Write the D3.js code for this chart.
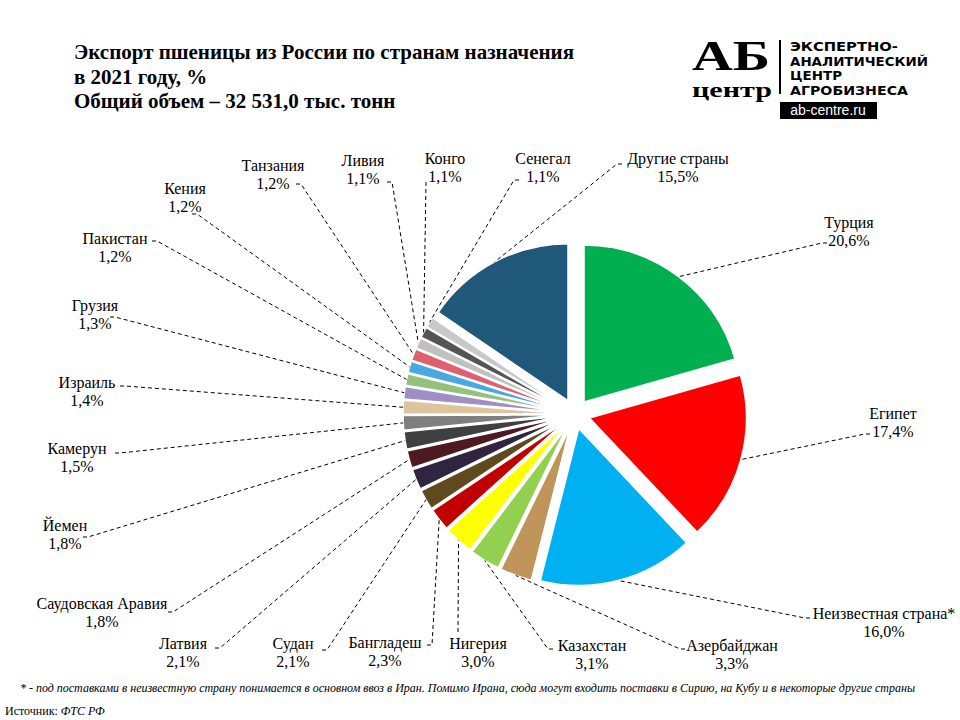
<!DOCTYPE html>
<html>
<head>
<meta charset="utf-8">
<script src="https://cdn.jsdelivr.net/npm/d3@7"></script>
<style>
  body { margin: 0; background: #fff; }
</style>
</head>
<body>
<div id="chart"></div>
<script>
// Экспорт пшеницы из России, 2021, % по странам
var countries = ["Турция", "Египет", "Неизвестная страна*", "Азербайджан", "Казахстан",
  "Нигерия", "Бангладеш", "Судан", "Латвия", "Саудовская Аравия", "Йемен", "Камерун",
  "Израиль", "Грузия", "Пакистан", "Кения", "Танзания", "Ливия", "Конго", "Сенегал",
  "Другие страны"];
var shares = [20.6, 17.4, 16.0, 3.3, 3.1, 3.0, 2.3, 2.1, 2.1, 1.8, 1.8, 1.5,
  1.4, 1.3, 1.2, 1.2, 1.2, 1.1, 1.1, 1.1, 15.5];
var colors = ["#00b050", "#ff0000", "#00b0f0", "#c0955a", "#92d050", "#ffff00",
  "#c00000", "#5f4a1e", "#2f2541", "#4d1a22", "#404040", "#7f7f7f", "#dcc49e",
  "#a08ec6", "#93c27c", "#4aa8e0", "#e06070", "#c0c0c0", "#555555", "#c8c8c8", "#1f5878"];

// label layout: text centre x, name baseline y, leader anchor x, y
var labelPos = [
  [849, 228, 827, 243], [893, 419, 870, 434], [884, 619, 810, 618],
  [732, 651, 685, 649], [592, 651, 553, 649], [478, 649, 458, 632],
  [385, 648, 427, 645], [293, 649, 322, 650], [183, 649, 215, 648],
  [102, 609, 168, 612], [65, 531, 83, 537], [77, 454, 115, 453],
  [87, 388, 120, 386], [95, 311, 110, 317], [115, 244, 152, 241],
  [185, 194, 192, 214], [273, 171, 296, 184], [363, 166, 387, 182],
  [445, 164, 426, 182], [543, 164, 519, 180], [678, 164, 622, 164]
];

var serif = "'Liberation Serif', Tinos, 'Times New Roman', 'DejaVu Serif', serif";

var svgWidth = 960;
var svgHeight = 720;
var cx = 575, cy = 414;
var radius = 157;
var explode = 15;

var svg = d3.select("#chart")
  .append("svg")
  .attr("width", svgWidth)
  .attr("height", svgHeight)
  .style("font-family", serif);

// title
var title = ["Экспорт пшеницы из России по странам назначения", "в 2021 году, %",
  "Общий объем – 32 531,0 тыс. тонн"];
svg.selectAll("text.title")
  .data(title)
  .enter()
  .append("text")
  .attr("class", "title")
  .attr("x", 74)
  .attr("y", (d, i) => 59 + i * 24.5)
  .attr("font-size", "21px")
  .attr("font-weight", "bold")
  .attr("fill", "#000")
  .style("font-family", serif)
  .text(d => d);

// logo
var logo = svg.append("g");
logo.append("text").attr("x", 692).attr("y", 70)
  .attr("font-size", "42px").attr("font-weight", "bold")
  .attr("textLength", 78).attr("lengthAdjust", "spacingAndGlyphs")
  .style("font-family", serif)
  .text("АБ");
logo.append("text").attr("x", 692).attr("y", 97)
  .attr("font-size", "20px").attr("font-weight", "bold")
  .attr("textLength", 80).attr("lengthAdjust", "spacingAndGlyphs")
  .style("font-family", serif)
  .text("центр");
logo.append("line").attr("x1", 780).attr("x2", 780).attr("y1", 40).attr("y2", 94)
  .attr("stroke", "#000").attr("stroke-width", 2);
var logoLines = ["ЭКСПЕРТНО-", "АНАЛИТИЧЕСКИЙ", "ЦЕНТР", "АГРОБИЗНЕСА"];
var logoLens = [108, 138, 52, 118];
logo.selectAll("text.lg")
  .data(logoLines)
  .enter()
  .append("text")
  .attr("class", "lg")
  .attr("x", 790)
  .attr("y", (d, i) => 51 + i * 14.5)
  .attr("font-size", "13px")
  .attr("font-weight", "bold")
  .attr("textLength", (d, i) => logoLens[i])
  .attr("lengthAdjust", "spacingAndGlyphs")
  .style("font-family", "'DejaVu Sans', sans-serif")
  .text(d => d);
logo.append("rect").attr("x", 780).attr("y", 102).attr("width", 97).attr("height", 17)
  .attr("fill", "#000");
logo.append("text").attr("x", 828).attr("y", 115).attr("text-anchor", "middle")
  .attr("font-size", "14px").attr("fill", "#fff")
  .style("font-family", "'Liberation Sans', Arial, sans-serif")
  .text("ab-centre.ru");

// pie
var data = countries.map((c, i) => ({ name: c, value: shares[i], color: colors[i], pos: labelPos[i] }));

var pie = d3.pie()
  .sort(null)
  .value(d => d.value);

var arc = d3.arc()
  .innerRadius(0)
  .outerRadius(radius);

var arcs = pie(data);

function shift(d) {
  var a = (d.startAngle + d.endAngle) / 2;
  return [explode * Math.sin(a), -explode * Math.cos(a)];
}

var pieGroup = svg.append("g")
  .attr("transform", `translate(${cx}, ${cy})`);

pieGroup.selectAll("path")
  .data(arcs)
  .enter()
  .append("path")
  .attr("d", arc)
  .attr("transform", d => `translate(${shift(d)[0]}, ${shift(d)[1]})`)
  .attr("fill", d => d.data.color)
  .attr("stroke", "#fff")
  .attr("stroke-width", 1.5);

// leader lines
svg.selectAll("polyline.leader")
  .data(arcs)
  .enter()
  .append("polyline")
  .attr("class", "leader")
  .attr("points", function(d) {
    var a = (d.startAngle + d.endAngle) / 2;
    var s = shift(d);
    var ex = cx + s[0] + radius * Math.sin(a);
    var ey = cy + s[1] - radius * Math.cos(a);
    var ax = d.data.pos[2], ay = d.data.pos[3];
    var dir = ex > ax ? 1 : -1;
    var bx = Math.abs(ex - ax) < 6 ? ax : ax + dir * 5;
    return `${ax},${ay} ${bx},${ay} ${ex},${ey}`;
  })
  .attr("fill", "none")
  .attr("stroke", "#000")
  .attr("stroke-width", 1)
  .attr("stroke-dasharray", "4,3");

// labels
var labels = svg.selectAll("g.label")
  .data(arcs)
  .enter()
  .append("g")
  .attr("class", "label");

labels.append("text")
  .attr("x", d => d.data.pos[0])
  .attr("y", d => d.data.pos[1])
  .attr("text-anchor", "middle")
  .attr("font-size", "16px")
  .style("font-family", serif)
  .text(d => d.data.name);

labels.append("text")
  .attr("x", d => d.data.pos[0])
  .attr("y", d => d.data.pos[1] + 18)
  .attr("text-anchor", "middle")
  .attr("font-size", "16px")
  .style("font-family", serif)
  .text(d => d3.format(".1f")(d.data.value).replace(".", ",") + "%");

// footnote and source
svg.append("text")
  .attr("x", 20)
  .attr("y", 692)
  .attr("font-size", "12px")
  .attr("font-style", "italic")
  .attr("textLength", 895)
  .attr("lengthAdjust", "spacingAndGlyphs")
  .style("font-family", serif)
  .text("* - под поставками в неизвестную страну понимается в основном ввоз в Иран. Помимо Ирана, сюда могут входить поставки в Сирию, на Кубу и в некоторые другие страны");

var src = svg.append("text")
  .attr("x", 5)
  .attr("y", 715)
  .attr("font-size", "12px")
  .style("font-family", serif);
src.append("tspan").text("Источник: ");
src.append("tspan").attr("font-style", "italic").text("ФТС РФ");
</script>
</body>
</html>
